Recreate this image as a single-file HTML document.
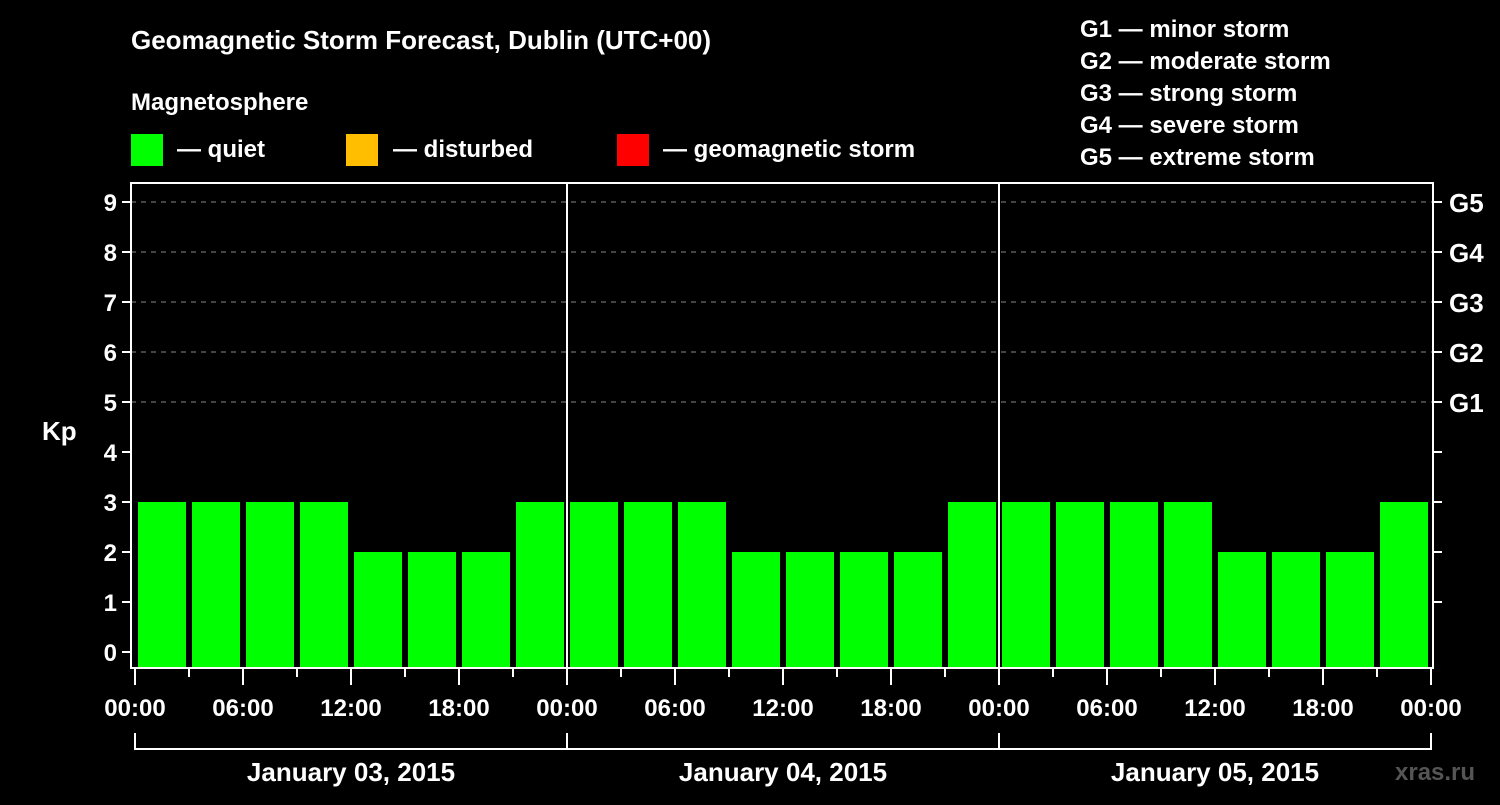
<!DOCTYPE html>
<html><head><meta charset="utf-8"><style>
body{margin:0;background:#000;width:1500px;height:800px;overflow:hidden}
svg text{font-family:"Liberation Sans",sans-serif;font-weight:bold;fill:#fff}
</style></head><body>
<svg id="c" width="1500" height="800" viewBox="0 0 1500 800" xmlns="http://www.w3.org/2000/svg">
<rect width="1500" height="800" fill="#000"/>
<text x="131" y="49" font-size="26">Geomagnetic Storm Forecast, Dublin (UTC+00)</text>
<text x="131" y="110" font-size="24">Magnetosphere</text>
<g>
<rect x="131" y="134" width="32" height="32" fill="#00ff00"/><text x="177" y="157" font-size="24">— quiet</text>
<rect x="346" y="134" width="32" height="32" fill="#ffbf00"/><text x="393" y="157" font-size="24">— disturbed</text>
<rect x="617" y="134" width="32" height="32" fill="#ff0000"/><text x="663" y="157" font-size="24">— geomagnetic storm</text>
</g>
<g font-size="24">
<text x="1080" y="37">G1 — minor storm</text>
<text x="1080" y="69">G2 — moderate storm</text>
<text x="1080" y="101">G3 — strong storm</text>
<text x="1080" y="133">G4 — severe storm</text>
<text x="1080" y="165">G5 — extreme storm</text>
</g>
<text x="42" y="440" font-size="26">Kp</text>
<text x="1395" y="780" font-size="24" style="fill:#555">xras.ru</text>
<g id="plot"></g>
</svg>
<script>
const kpValues=[3,3,3,3,2,2,2,3, 3,3,3,2,2,2,2,3, 3,3,3,3,2,2,2,3];
const dayLabels=["January 03, 2015","January 04, 2015","January 05, 2015"];
const hourLabels=["00:00","06:00","12:00","18:00"];
const gLabels=["G1","G2","G3","G4","G5"];
const yTicks=[0,1,2,3,4,5,6,7,8,9];

const NS="http://www.w3.org/2000/svg";
const X0=135, HOUR=18, Y0=652, UNIT=50, TOP=183, BOT=668, L=131, R=1433;
const xs=h=>X0+h*HOUR, ys=v=>Y0-v*UNIT;
const plot=document.getElementById('plot');
function mk(t,a,txt){const e=document.createElementNS(NS,t);for(const k in a)e.setAttribute(k,a[k]);if(txt!==undefined)e.textContent=txt;plot.appendChild(e);return e;}
function col(v){return v>=5?'#ff0000':v>=4?'#ffbf00':'#00ff00';}
// grid
yTicks.forEach(v=>{
 if(v>=5){const g=mk('line',{x1:L,x2:R,y1:ys(v),y2:ys(v),stroke:'#888','stroke-width':1,'stroke-dasharray':'5,5'});
 
 }
 const t=mk('line',{x1:L-9,x2:L,y1:ys(v),y2:ys(v),stroke:'#fff','stroke-width':2});
 
 
 if(v>=1){const rt=mk('line',{x1:R,x2:R+9,y1:ys(v),y2:ys(v),stroke:'#fff','stroke-width':2});
 
 }
 const l=mk('text',{x:L-14,y:ys(v)+9,'font-size':24,'text-anchor':'end'},String(v));
 
 
});
gLabels.forEach((g,i)=>{
 const l=mk('text',{x:R+16,y:ys(5+i)+10,'font-size':26},g);
 
 
});
// bars
kpValues.forEach((v,i)=>{
 const x=xs(i*3)+3, y=ys(v);
 const b=mk('rect',{x:x,y:y,width:48,height:BOT-y,fill:col(v)});
 
 
});
// frame
const f=mk('rect',{x:L,y:TOP,width:R-L,height:BOT-TOP,fill:'none',stroke:'#fff','stroke-width':2});


// day separators, x ticks
dayLabels.forEach((d,di)=>{
 if(di>0){const s=mk('line',{x1:xs(di*24),x2:xs(di*24),y1:TOP,y2:BOT,stroke:'#fff','stroke-width':2});
 
 }
 const dl=mk('text',{x:xs(di*24+12),y:781,'font-size':26,'text-anchor':'middle'},d);
 
 
});
for(let h=0;h<=72;h+=3){
 const major=h%6===0;
 const t=mk('line',{x1:xs(h),x2:xs(h),y1:BOT,y2:BOT+(major?17:9),stroke:'#fff','stroke-width':2});
 
 
 if(major){const l=mk('text',{x:xs(h),y:716,'font-size':24,'text-anchor':'middle'},hourLabels[(h/6)%4]);
 
 }
}
// bracket
const br=mk('path',{d:`M${xs(0)} 733 V749 H${xs(72)} V733`,fill:'none',stroke:'#fff','stroke-width':2});


for(let d=1;d<3;d++){const t=mk('line',{x1:xs(d*24),x2:xs(d*24),y1:733,y2:749,stroke:'#fff','stroke-width':2});
 
 }
</script>
</body></html>
